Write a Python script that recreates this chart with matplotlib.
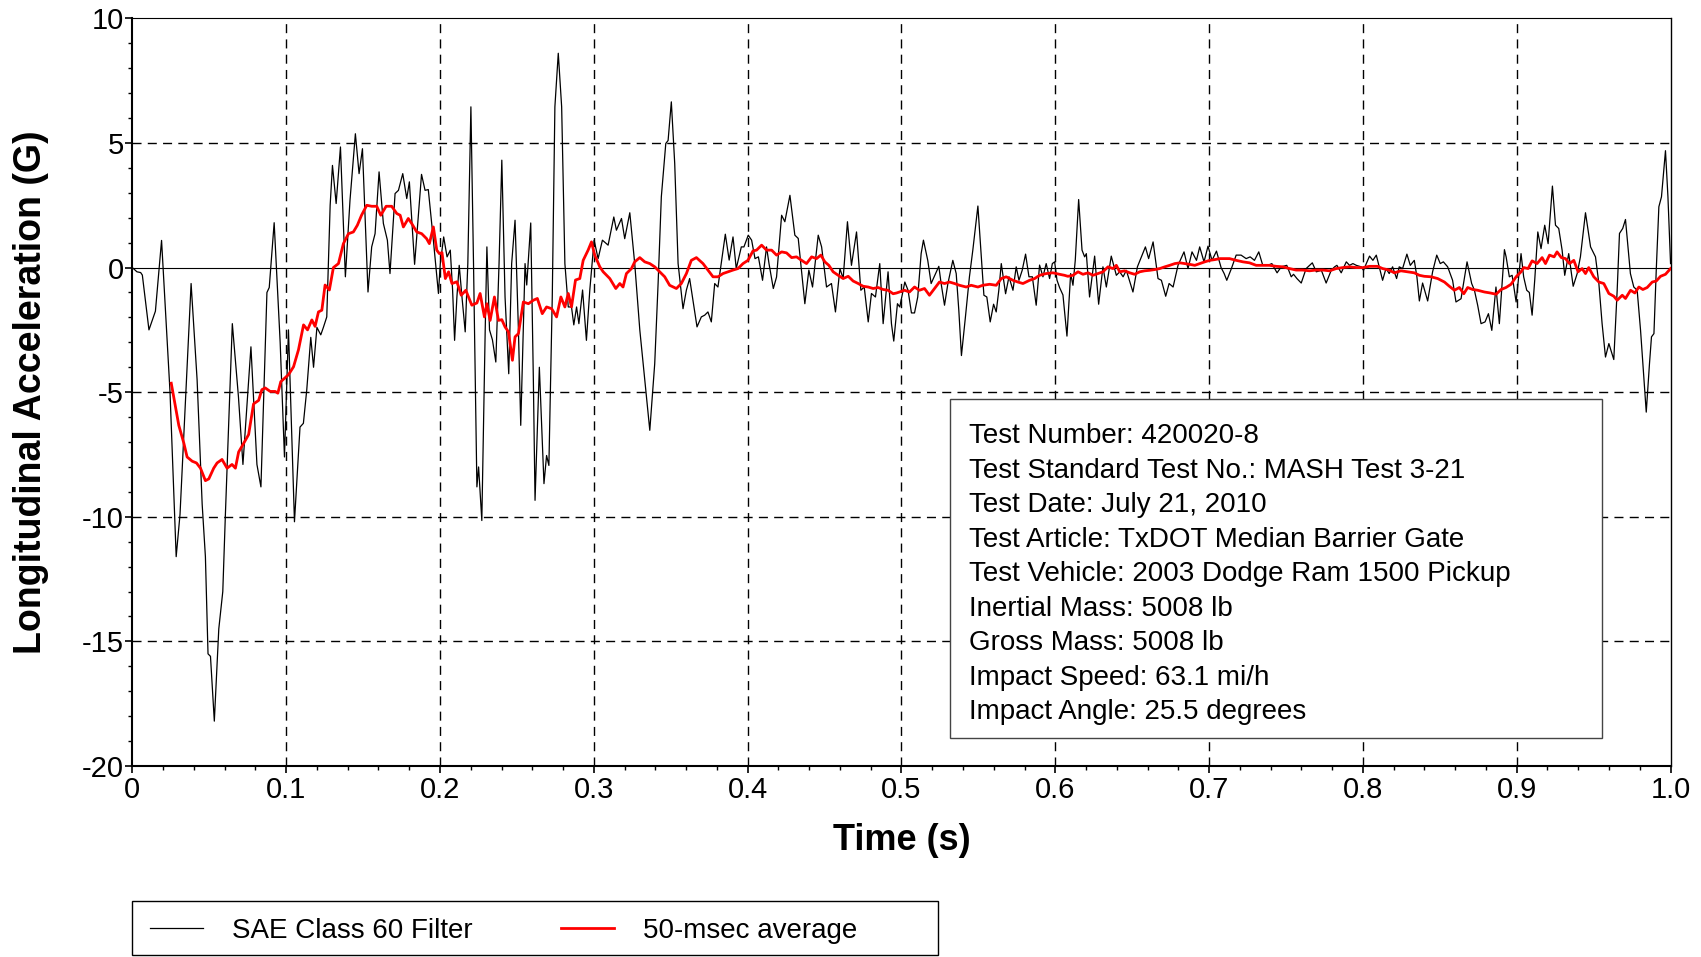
import matplotlib
matplotlib.use('Agg')
import matplotlib.pyplot as plt
from matplotlib.patches import Rectangle
from matplotlib.ticker import MultipleLocator

plt.rcParams['font.family'] = ['Liberation Sans', 'DejaVu Sans']
plt.rcParams['axes.unicode_minus'] = False

# SAE Class 60 filtered signal (time s, accel G)
sae_t = [
    0.0, 0.003, 0.0054, 0.0065, 0.0108, 0.015, 0.019, 0.0245, 0.0285, 0.031,
    0.0382, 0.0421, 0.0454, 0.0475, 0.0492, 0.0508, 0.0533, 0.0562, 0.0588, 0.0605,
    0.065, 0.069, 0.0719, 0.0771, 0.081, 0.0836, 0.0875, 0.089, 0.0922, 0.0961,
    0.0989, 0.1015, 0.1054, 0.109, 0.1112, 0.1134, 0.116, 0.1178, 0.12, 0.1225,
    0.1242, 0.1264, 0.1286, 0.1301, 0.1325, 0.1353, 0.1385, 0.1415, 0.145, 0.1474,
    0.1496, 0.1532, 0.1556, 0.1578, 0.1604, 0.1632, 0.1658, 0.1675, 0.1708, 0.173,
    0.1758, 0.1784, 0.1801, 0.1835, 0.188, 0.1903, 0.1924, 0.1957, 0.199, 0.2002,
    0.2024, 0.2046, 0.2067, 0.2082, 0.2095, 0.211, 0.2125, 0.2143, 0.2164, 0.2181,
    0.2201, 0.2218, 0.224, 0.2251, 0.2272, 0.2294, 0.2305, 0.2322, 0.2341, 0.2363,
    0.2384, 0.2402, 0.2423, 0.2447, 0.2466, 0.2488, 0.251, 0.2525, 0.2553, 0.2564,
    0.259, 0.2607, 0.2618, 0.2646, 0.2676, 0.2693, 0.2708, 0.273, 0.2747, 0.2769,
    0.2791, 0.2812, 0.2834, 0.2855, 0.287, 0.2888, 0.2903, 0.2927, 0.2952, 0.2974,
    0.3002, 0.3028, 0.3056, 0.3093, 0.313, 0.3147, 0.318, 0.3201, 0.3234, 0.3266,
    0.3299, 0.3331, 0.3364, 0.3396, 0.3418, 0.3439, 0.3468, 0.3483, 0.3504, 0.3526,
    0.3548, 0.358, 0.3602, 0.3623, 0.3671, 0.3699, 0.3721, 0.3742, 0.3764, 0.3786,
    0.3807, 0.3855, 0.388, 0.3905, 0.3926, 0.3959, 0.3976, 0.4004, 0.4026, 0.4048,
    0.407, 0.4097, 0.4123, 0.4139, 0.4167, 0.4188, 0.4221, 0.4242, 0.4275, 0.4307,
    0.4329, 0.4372, 0.4398, 0.4422, 0.4459, 0.4481, 0.4513, 0.4545, 0.4571, 0.46,
    0.4621, 0.4649, 0.4675, 0.4708, 0.4736, 0.4758, 0.4784, 0.4805, 0.4831, 0.4859,
    0.4881, 0.4913, 0.4935, 0.495, 0.4974, 0.4989, 0.5022, 0.5043, 0.5065, 0.5085,
    0.5106, 0.5128, 0.5143, 0.5171, 0.5193, 0.5243, 0.5258, 0.528, 0.5302, 0.5334,
    0.5356, 0.5373, 0.539, 0.5416, 0.5442, 0.5464, 0.5497, 0.5518, 0.5536, 0.5555,
    0.5577, 0.5599, 0.5616, 0.5633, 0.5649, 0.5677, 0.5699, 0.5725, 0.5746, 0.5764,
    0.5785, 0.5807, 0.5829, 0.5851, 0.5876, 0.5898, 0.592, 0.5941, 0.5963, 0.5981,
    0.5996, 0.6011, 0.6028, 0.605, 0.6076, 0.61, 0.6115, 0.613, 0.6152, 0.6174,
    0.6191, 0.6202, 0.6223, 0.6256, 0.6282, 0.631, 0.6332, 0.6364, 0.6397, 0.6419,
    0.6441, 0.6462, 0.6505, 0.6534, 0.6586, 0.6607, 0.6636, 0.6668, 0.669, 0.6718,
    0.674, 0.6766, 0.6798, 0.6837, 0.6863, 0.6889, 0.6918, 0.6939, 0.6967, 0.6993,
    0.7019, 0.7048, 0.7078, 0.7098, 0.7115, 0.7145, 0.7176, 0.7208, 0.7241, 0.7267,
    0.7295, 0.7323, 0.7349, 0.7382, 0.7408, 0.7442, 0.7469, 0.7505, 0.7534, 0.7549,
    0.7571, 0.7599, 0.7631, 0.7671, 0.7697, 0.773, 0.7761, 0.7794, 0.7816, 0.7831,
    0.7859, 0.7892, 0.7913, 0.7935, 0.7957, 0.7989, 0.8004, 0.8022, 0.8043, 0.8065,
    0.8087, 0.8128, 0.815, 0.8171, 0.8193, 0.8219, 0.8236, 0.8258, 0.8286, 0.8308,
    0.8334, 0.8351, 0.8367, 0.8388, 0.8421, 0.8453, 0.848, 0.8503, 0.8523, 0.8551,
    0.8583, 0.8605, 0.8638, 0.8677, 0.8707, 0.8725, 0.8746, 0.8768, 0.8794, 0.8816,
    0.8838, 0.8865, 0.8887, 0.892, 0.8931, 0.8952, 0.897, 0.8996, 0.9028, 0.9045,
    0.9065, 0.9082, 0.91, 0.9117, 0.9137, 0.9158, 0.9182, 0.9204, 0.9232, 0.9252,
    0.9273, 0.9295, 0.9312, 0.9338, 0.9367, 0.9393, 0.9414, 0.9447, 0.948, 0.9512,
    0.9534, 0.9555, 0.9577, 0.9599, 0.9631, 0.9653, 0.9668, 0.9689, 0.9707, 0.9739,
    0.9761, 0.9783, 0.9805, 0.982, 0.9842, 0.9863, 0.9876, 0.9892, 0.9907, 0.9924,
    0.9941, 0.9967, 0.9983, 1.0,
]
sae_g = [
    0.0, -0.17, -0.2, -0.3, -2.5, -1.75, 1.09, -5.0, -11.6, -9.9,
    -0.64, -4.5, -9.5, -11.6, -15.5, -15.6, -18.2, -14.5, -13.0, -9.9,
    -2.25, -5.2, -7.9, -3.18, -7.9, -8.8, -1.0, -0.8, 1.8, -3.0,
    -7.6, -2.5, -10.2, -6.4, -6.25, -4.9, -2.8, -4.0, -2.4, -2.7,
    -2.4, -1.98, 2.5, 4.1, 2.57, 4.84, -0.37, 2.7, 5.37, 3.77,
    4.77, -0.98, 0.83, 1.36, 3.84, 1.77, 1.1, -0.24, 2.97, 3.1,
    3.77, 2.77, 3.44, 0.13, 3.74, 3.1, 3.13, 1.1, -1.04, 0.16,
    1.23, 0.43, 0.7, -0.9, -2.92, -1.18, 0.09, -1.18, -2.58, 0.16,
    6.45, 0.16, -8.8, -8.0, -10.15, -2.5, 0.83, -2.5, -2.9, -3.79,
    0.16, 4.31, -1.18, -4.26, 0.16, 1.9, -2.5, -6.33, 0.16, -0.7,
    1.79, -4.5, -9.34, -4.0, -8.67, -7.54, -7.94, -1.18, 6.45, 8.6,
    6.45, 0.16, -1.58, -1.58, -2.3, -1.58, -2.25, -0.9, -2.92, -0.9,
    1.1, 0.36, 1.1, 0.9, 2.03, 1.5, 1.97, 1.16, 2.2, 0.16,
    -2.5, -4.5, -6.53, -3.86, -0.64, 2.84, 4.98, 5.1, 6.65, 4.18,
    0.16, -1.65, -0.9, -0.44, -2.38, -1.98, -1.91, -1.78, -2.18, -0.64,
    -0.78, 1.34, 0.3, 1.23, -0.04, 0.83, 0.83, 1.3, 1.1, 0.36,
    0.43, -0.51, 0.83, 0.16, -0.84, -0.38, 2.1, 1.84, 2.9, 1.3,
    1.17, -1.45, -0.1, -0.78, 1.3, 0.83, -0.78, -0.64, -1.78, -0.04,
    -0.44, 1.84, 0.09, 1.43, -0.91, -0.78, -2.18, -1.04, -1.18, 0.16,
    -2.25, -0.17, -2.25, -2.95, -1.45, -1.58, -0.58, -0.91, -1.82, -1.82,
    -1.18, 0.56, 1.1, 0.29, -0.64, 0.05, -0.64, -1.51, -0.64, 0.29,
    -0.24, -1.72, -3.53, -1.98, -0.37, 0.7, 2.47, 0.56, -1.11, -1.18,
    -2.18, -1.47, -1.78, -0.91, 0.16, -1.05, -0.37, -0.91, 0.03, -0.51,
    -0.11, 0.54, -0.37, -0.37, -1.51, 0.1, -0.37, 0.16, -0.44, 0.16,
    0.23, -0.5, -0.8, -1.1, -2.75, -0.24, -0.71, 0.29, 2.73, 0.7,
    0.43, 0.56, -1.18, 0.46, -1.47, 0.03, -0.78, 0.46, -0.31, -0.17,
    -0.37, -0.11, -0.98, 0.03, 0.83, 0.36, 1.03, -0.44, -0.51, -1.15,
    -0.64, -0.78, 0.09, 0.63, -0.04, 0.63, 0.29, 0.83, 0.23, 0.86,
    0.29, 0.66, 0.0, -0.24, -0.51, -0.04, 0.5, 0.5, 0.36, 0.43,
    0.29, 0.63, 0.09, 0.09, 0.16, -0.21, 0.03, 0.09, -0.37, -0.27,
    -0.44, -0.62, -0.04, 0.19, -0.17, -0.11, -0.62, -0.11, 0.03, 0.09,
    -0.21, 0.23, 0.09, 0.16, 0.09, 0.03, -0.11, 0.16, 0.46, 0.29,
    0.5, -0.51, -0.04, -0.24, 0.03, -0.44, 0.03, -0.04, 0.54, 0.09,
    0.29, -0.37, -1.34, -0.62, -1.34, -0.17, 0.5, 0.16, 0.23, 0.03,
    -0.51, -1.38, -1.25, 0.23, -0.64, -0.91, -1.51, -2.25, -2.18, -1.85,
    -2.52, -0.78, -2.25, 0.72, 0.43, -0.37, -0.31, -1.38, 0.56, -0.37,
    -0.91, -1.0, -1.91, -0.5, 1.43, 0.76, 1.7, 0.96, 3.27, 1.7,
    1.57, 0.7, -0.31, 0.56, -0.75, -0.24, 0.43, 2.2, 0.83, 0.43,
    -0.64, -2.25, -3.59, -3.05, -3.69, -0.91, 1.37, 1.57, 1.93, -0.24,
    -0.78, -0.91, -2.52, -3.86, -5.8, -3.86, -2.78, -2.65, -0.11, 2.44,
    2.84, 4.69, 2.84, 0.16,
]

# 50-msec moving average
avg_t = [
    0.0253, 0.0281, 0.0302, 0.0335, 0.0356, 0.0389, 0.0417, 0.0443, 0.0475, 0.0497,
    0.0529, 0.0551, 0.0583, 0.0616, 0.0648, 0.067, 0.0691, 0.0724, 0.0756, 0.0788,
    0.0821, 0.0842, 0.0864, 0.0896, 0.0929, 0.0946, 0.0965, 0.1015, 0.1048, 0.108,
    0.1113, 0.1139, 0.1167, 0.1188, 0.121, 0.1232, 0.1253, 0.1281, 0.1307, 0.134,
    0.1372, 0.1405, 0.1437, 0.1463, 0.149, 0.1524, 0.1556, 0.1589, 0.1615, 0.165,
    0.1686, 0.1719, 0.1741, 0.1762, 0.1794, 0.1816, 0.1849, 0.1881, 0.1913, 0.1931,
    0.1957, 0.1979, 0.1996, 0.2013, 0.2035, 0.2056, 0.2078, 0.211, 0.2138, 0.2168,
    0.2207, 0.224, 0.2261, 0.2289, 0.2305, 0.2326, 0.2354, 0.238, 0.2402, 0.2423,
    0.2445, 0.2471, 0.2488, 0.251, 0.2542, 0.2575, 0.2607, 0.2633, 0.2665, 0.2693,
    0.2726, 0.2758, 0.2786, 0.2812, 0.2834, 0.2855, 0.2881, 0.2909, 0.2931, 0.2963,
    0.2985, 0.3006, 0.3039, 0.3061, 0.3104, 0.3143, 0.3169, 0.319, 0.3212, 0.3245,
    0.3266, 0.3299, 0.3331, 0.3364, 0.3396, 0.3429, 0.3461, 0.3493, 0.3537, 0.3569,
    0.3602, 0.3634, 0.3667, 0.371, 0.3742, 0.3775, 0.3807, 0.384, 0.3872, 0.3905,
    0.3937, 0.397, 0.4002, 0.4035, 0.4058, 0.4091, 0.4123, 0.4156, 0.4188, 0.4221,
    0.4253, 0.4286, 0.4318, 0.4351, 0.4383, 0.4416, 0.4448, 0.4476, 0.4502, 0.4528,
    0.4556, 0.4589, 0.4621, 0.4654, 0.4686, 0.4719, 0.4751, 0.4784, 0.4816, 0.4848,
    0.4881, 0.4913, 0.4946, 0.4968, 0.502, 0.5052, 0.5085, 0.5117, 0.515, 0.5182,
    0.5215, 0.5247, 0.528, 0.5312, 0.5345, 0.5377, 0.5421, 0.5453, 0.5497, 0.5529,
    0.5573, 0.5616, 0.5649, 0.5681, 0.5725, 0.5757, 0.579, 0.5833, 0.5866, 0.5898,
    0.5941, 0.5985, 0.6028, 0.6060, 0.6082, 0.6115, 0.6148, 0.618, 0.6213, 0.6245,
    0.6278, 0.631, 0.6343, 0.6375, 0.6397, 0.6419, 0.6451, 0.6484, 0.6516, 0.6549,
    0.6581, 0.6614, 0.6646, 0.6679, 0.6712, 0.6744, 0.6777, 0.681, 0.6842, 0.6874,
    0.6907, 0.6939, 0.6972, 0.7004, 0.7037, 0.707, 0.7133, 0.7176, 0.722, 0.7263,
    0.7306, 0.735, 0.7393, 0.7436, 0.7479, 0.7523, 0.7566, 0.7609, 0.7653, 0.7696,
    0.774, 0.7783, 0.7826, 0.787, 0.7913, 0.7957, 0.8, 0.8043, 0.8095, 0.8128,
    0.8171, 0.8204, 0.8247, 0.829, 0.8334, 0.8367, 0.8399, 0.8443, 0.8486, 0.853,
    0.8562, 0.8595, 0.8627, 0.8656, 0.8681, 0.8714, 0.8746, 0.879, 0.8829, 0.8866,
    0.8898, 0.893, 0.8963, 0.8996, 0.9028, 0.9046, 0.9074, 0.91, 0.9132, 0.9165,
    0.9187, 0.9213, 0.9243, 0.9262, 0.929, 0.9317, 0.9343, 0.9371, 0.9399, 0.9425,
    0.9447, 0.9468, 0.9501, 0.9534, 0.9566, 0.9599, 0.9631, 0.9653, 0.9686, 0.9707,
    0.974, 0.9768, 0.9794, 0.982, 0.9848, 0.9881, 0.9907, 0.9935, 0.9967, 1.0,
]
avg_g = [
    -4.64, -5.6, -6.33, -7.05, -7.6, -7.77, -7.84, -8.05, -8.55, -8.48,
    -8.05, -7.84, -7.7, -8.05, -7.9, -8.05, -7.4, -7.05, -6.7, -5.47,
    -5.33, -4.9, -4.83, -4.97, -4.97, -5.04, -4.58, -4.3, -3.98, -3.3,
    -2.3, -2.5, -2.1, -2.36, -1.78, -1.71, -0.7, -0.9, 0.0, 0.16,
    0.96, 1.36, 1.43, 1.7, 2.1, 2.5, 2.46, 2.46, 2.1, 2.46,
    2.46, 2.17, 2.1, 1.63, 1.97, 1.77, 1.43, 1.36, 1.16, 0.96,
    1.63, 0.7, 0.56, 0.6, -0.44, -0.17, -0.64, -0.57, -1.11, -0.91,
    -1.51, -1.42, -1.04, -1.98, -1.45, -2.12, -1.18, -2.12, -2.09, -2.38,
    -2.58, -3.72, -2.78, -2.65, -1.38, -1.45, -1.31, -1.24, -1.85, -1.58,
    -1.65, -1.98, -1.18, -1.58, -1.04, -1.58, -0.5, -0.44, 0.29, 0.7,
    1.03, 0.5, 0.03, -0.17, -0.44, -0.84, -0.64, -0.78, -0.24, -0.04,
    0.23, 0.4, 0.23, 0.16, 0.03, -0.17, -0.37, -0.71, -0.84, -0.64,
    -0.24, 0.29, 0.4, 0.16, -0.1, -0.37, -0.37, -0.24, -0.17, -0.1,
    -0.04, 0.16, 0.29, 0.67, 0.7, 0.9, 0.7, 0.7, 0.5, 0.63,
    0.59, 0.4, 0.43, 0.29, 0.16, 0.43, 0.36, 0.5, 0.23, 0.09,
    -0.17, -0.31, -0.44, -0.35, -0.54, -0.64, -0.75, -0.78, -0.84, -0.8,
    -0.88, -0.91, -1.05, -1.02, -0.91, -0.98, -0.78, -0.91, -0.84, -1.11,
    -0.84, -0.58, -0.64, -0.58, -0.64, -0.71, -0.78, -0.71, -0.78, -0.71,
    -0.67, -0.71, -0.44, -0.37, -0.51, -0.58, -0.64, -0.51, -0.44, -0.31,
    -0.24, -0.21, -0.27, -0.31, -0.35, -0.31, -0.17, -0.27, -0.21, -0.31,
    -0.24, -0.17, 0.03, -0.04, 0.09, -0.17, -0.13, -0.21, -0.27, -0.17,
    -0.13, -0.11, -0.08, -0.04, 0.03, 0.09, 0.16, 0.19, 0.16, 0.13,
    0.09, 0.16, 0.23, 0.29, 0.32, 0.36, 0.36, 0.29, 0.23, 0.19,
    0.09, 0.09, 0.09, 0.05, 0.03, -0.04, -0.1, -0.1, -0.13, -0.1,
    -0.1, -0.13, -0.04, 0.0, 0.03, 0.0, 0.0, 0.05, 0.05, -0.04,
    -0.1, -0.21, -0.13, -0.17, -0.21, -0.31, -0.35, -0.37, -0.44, -0.58,
    -0.75, -0.91, -0.8, -1.05, -0.8, -0.88, -0.91, -0.98, -1.02, -1.07,
    -0.88, -0.8, -0.67, -0.37, -0.17, 0.0, -0.04, 0.27, 0.16, 0.4,
    0.16, 0.5, 0.43, 0.63, 0.4, 0.36, 0.16, 0.29, -0.17, -0.04,
    -0.24, 0.0, -0.37, -0.58, -0.64, -1.04, -1.15, -1.31, -1.11, -1.24,
    -0.91, -1.02, -0.78, -0.88, -0.8, -0.58, -0.54, -0.35, -0.27, -0.04,
]

x_ticks = [0.0, 0.1, 0.2, 0.3, 0.4, 0.5, 0.6, 0.7, 0.8, 0.9, 1.0]
x_tick_labels = ['0', '0.1', '0.2', '0.3', '0.4', '0.5', '0.6', '0.7', '0.8', '0.9', '1.0']
y_ticks = [-20, -15, -10, -5, 0, 5, 10]

info_lines = [
    'Test Number: 420020-8',
    'Test Standard Test No.: MASH Test 3-21',
    'Test Date: July 21, 2010',
    'Test Article: TxDOT Median Barrier Gate',
    'Test Vehicle: 2003 Dodge Ram 1500 Pickup',
    'Inertial Mass: 5008 lb',
    'Gross Mass: 5008 lb',
    'Impact Speed: 63.1 mi/h',
    'Impact Angle: 25.5 degrees',
]

fig = plt.figure(figsize=(17.01, 9.57), dpi=100)
ax = fig.add_axes([0.0778, 0.1996, 0.9043, 0.7812])

sae_line, = ax.plot(sae_t, sae_g, color='black', lw=0.9, zorder=3)
avg_line, = ax.plot(avg_t, avg_g, color='red', lw=2.0, zorder=4)

ax.set_xlim(0, 1.0)
ax.set_ylim(-20, 10)
ax.set_xticks(x_ticks)
ax.set_xticklabels(x_tick_labels)
ax.set_yticks(y_ticks)
ax.xaxis.set_minor_locator(MultipleLocator(0.02))
ax.yaxis.set_minor_locator(MultipleLocator(1))
ax.tick_params(axis='both', which='major', direction='out', length=5, width=1.2,
               labelsize=21, pad=2)
ax.tick_params(axis='both', which='minor', direction='out', length=3, width=1.0)
ax.tick_params(axis='y', which='major', pad=1)

# dashed grid + solid zero line
for xv in x_ticks[1:-1]:
    ax.axvline(xv, color='black', lw=1.0, ls=(0, (6.5, 4.5)), zorder=1)
for yv in [5, -5, -10, -15]:
    ax.axhline(yv, color='black', lw=1.0, ls=(0, (6.5, 4.5)), zorder=1)
ax.axhline(0, color='black', lw=0.8, zorder=2)

for side in ['left', 'bottom']:
    ax.spines[side].set_linewidth(1.5)
ax.spines['top'].set_linewidth(0.8)
ax.spines['right'].set_linewidth(1.0)

ax.set_xlabel('Time (s)', fontsize=26, fontweight='bold', labelpad=14)
ax.set_ylabel('Longitudinal Acceleration (G)', fontsize=27, fontweight='bold', labelpad=24)

# test information box
ax.add_patch(Rectangle((0.5316, 0.0375), 0.4238, 0.4535, transform=ax.transAxes,
                       facecolor='white', edgecolor='#444444', lw=1.0, zorder=5))
for i, line in enumerate(info_lines):
    ax.text(0.5437, (766 - 436 - 34.56 * i) / 747.6, line, transform=ax.transAxes,
            fontsize=20, va='center', ha='left', zorder=6)

# legend below the plot with its own frame
fig.patches.append(Rectangle((132 / 1701, 2 / 957), 806 / 1701, 54 / 957,
                             transform=fig.transFigure, facecolor='none',
                             edgecolor='black', lw=1.0))
fig.legend([sae_line, avg_line], ['SAE Class 60 Filter', '50-msec average'],
           loc='center left', bbox_to_anchor=(150 / 1701, 1 - 931 / 957),
           ncol=2, frameon=False, fontsize=20, handlelength=1.9,
           handletextpad=1.05, columnspacing=3.2, borderpad=0, borderaxespad=0)

fig.savefig('out.png', dpi=100)
